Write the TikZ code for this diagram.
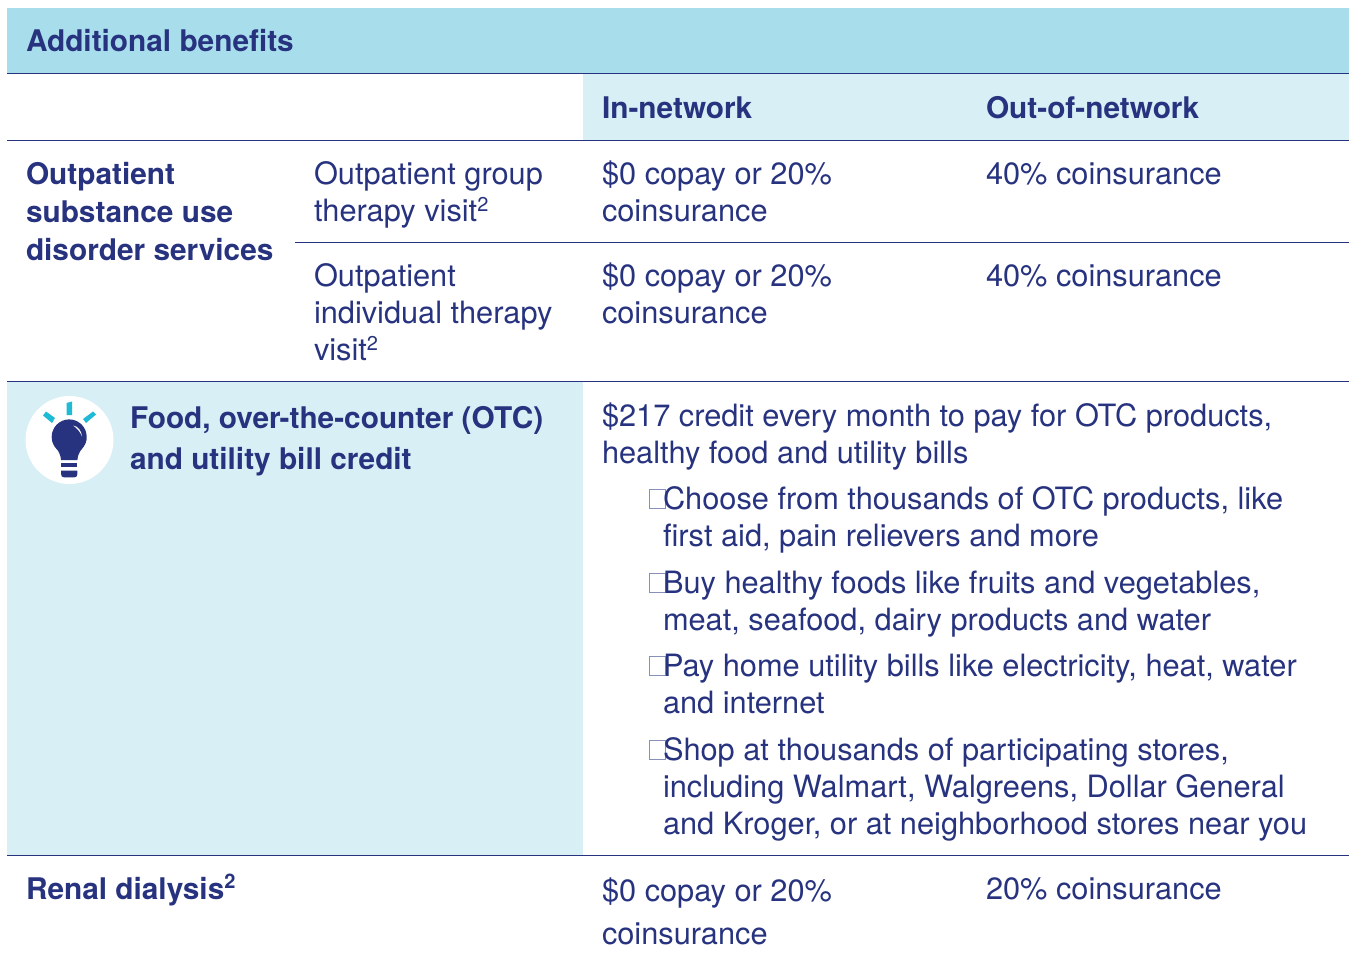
\documentclass[tikz,border=0pt]{standalone}
\usepackage{fontspec}
\setmainfont{TeX Gyre Heros}
\definecolor{navy}{HTML}{27337F}
\definecolor{bandA}{HTML}{A8DDEC}
\definecolor{bandB}{HTML}{D7EFF5}
\definecolor{raycol}{HTML}{1FBAD6}
\newcommand{\supr}[1]{\raisebox{10.5pt}{\fontsize{20}{20}\selectfont #1}}
\tikzset{
 x=1pt,y=-1pt,
 txt/.style={anchor=base west,inner sep=0pt,outer sep=0pt,text=navy,font=\fontsize{30.75}{36}\selectfont},
 bld/.style={txt,font=\fontsize{29.8}{36}\selectfont\bfseries},
 rule/.style={draw=navy,line width=1.3pt},
 bx/.style={draw=navy!55,line width=0.6pt,fill=none,inner sep=0pt,minimum width=16pt,minimum height=19pt,anchor=north west},
}
\begin{document}
\begin{tikzpicture}
\useasboundingbox (0,0) rectangle (1349,965);
\fill[white] (0,0) rectangle (1349,965);
\fill[bandA] (7,8) rectangle (1349,73);
\fill[bandB] (583,74) rectangle (1349,140);
\fill[bandB] (7,382) rectangle (583,855);
\coordinate (l1a) at (7,73.5);\coordinate (l1b) at (1349,73.5);
\coordinate (l2a) at (7,140.5);\coordinate (l2b) at (1349,140.5);
\coordinate (l3a) at (295,242.5);\coordinate (l3b) at (1349,242.5);
\coordinate (l4a) at (7,381.5);\coordinate (l4b) at (1349,381.5);
\coordinate (l5a) at (7,855.5);\coordinate (l5b) at (1349,855.5);
\draw[rule] (l1a)--(l1b);
\draw[rule] (l2a)--(l2b);
\draw[rule] (l3a)--(l3b);
\draw[rule] (l4a)--(l4b);
\draw[rule] (l5a)--(l5b);
% text
\node[bld] (t1) at (26,52) {Additional benefits};
\node[bld] (h1) at (602,119) {In-network};
\node[bld] (h2) at (986,119) {Out-of-network};
\node[bld] (a1) at (26,185) {Outpatient};
\node[bld] (a2) at (26,223) {substance use};
\node[bld] (a3) at (26,261) {disorder services};
\node[txt] (b1) at (314,185) {Outpatient group};
\node[txt] (b2) at (314,222) {therapy visit\supr{2}};
\node[txt] (c1) at (602,185) {\$0 copay or 20\%};
\node[txt] (c2) at (602,222) {coinsurance};
\node[txt] (d1) at (986,185) {40\% coinsurance};
\node[txt] (b3) at (314,287) {Outpatient};
\node[txt] (b4) at (314,324) {individual therapy};
\node[txt] (b5) at (314,361) {visit\supr{2}};
\node[txt] (c3) at (602,287) {\$0 copay or 20\%};
\node[txt] (c4) at (602,324) {coinsurance};
\node[txt] (d2) at (986,287) {40\% coinsurance};
\node[bld] (f1) at (130,428) {Food, over-the-counter (OTC)};
\node[bld] (f2) at (130,469) {and utility bill credit};
\node[txt] (g1) at (602,426) {\$217 credit every month to pay for OTC products,};
\node[txt] (g2) at (602,463) {healthy food and utility bills};
\node[bx] (k1) at (649,489) {};
\node[txt] (g3) at (663,509) {Choose from thousands of OTC products, like};
\node[txt] (g4) at (663,546) {first aid, pain relievers and more};
\node[bx] (k2) at (649,573) {};
\node[txt] (g5) at (663,593) {Buy healthy foods like fruits and vegetables,};
\node[txt] (g6) at (663,630) {meat, seafood, dairy products and water};
\node[bx] (k3) at (649,656) {};
\node[txt] (g7) at (663,676) {Pay home utility bills like electricity, heat, water};
\node[txt] (g8) at (663,713) {and internet};
\node[bx] (k4) at (649,740) {};
\node[txt] (g9) at (663,760) {Shop at thousands of participating stores,};
\node[txt] (g10) at (663,797) {including Walmart, Walgreens, Dollar General};
\node[txt] (g11) at (663,834) {and Kroger, or at neighborhood stores near you};
\node[bld] (r1) at (26,899) {Renal dialysis\supr{2}};
\node[txt] (r2) at (602,901) {\$0 copay or 20\%};
\node[txt] (r3) at (602,944) {coinsurance};
\node[txt] (r4) at (986,899) {20\% coinsurance};
% icon
\fill[white] (69.5,440) circle[radius=44];
\fill[raycol] (66.5,403) -- (72,401.5) -- (72,415) -- (66.5,415) -- cycle;
\fill[raycol] (46,411.5) -- (55,418) -- (52,423) -- (43,415.5) -- cycle;
\fill[raycol] (93,411.5) -- (96,414.5) -- (86,423) -- (83,419) -- cycle;
\fill[navy] (69.2,436.9) circle[radius=17.5];
\fill[navy] (52,439) .. controls (53,447) and (60.5,450) .. (61,460) -- (77.4,460)
  .. controls (78,450) and (85.5,447) .. (86.5,439) -- cycle;
\fill[navy] (61,463.3) rectangle (77.4,467.3);
\fill[navy] (61,470.7) -- (77.4,470.7) -- (77.4,474) .. controls (77.4,476.5) and (76,477.4) .. (74,477.4)
  -- (64.5,477.4) .. controls (62.4,477.4) and (61,476.5) .. (61,474) -- cycle;
\fill[white] (73,425.5) .. controls (78,426) and (81.5,431) .. (82,436.5)
  .. controls (80,431.5) and (77,428) .. (73,425.5) -- cycle;
\end{tikzpicture}
\end{document}
